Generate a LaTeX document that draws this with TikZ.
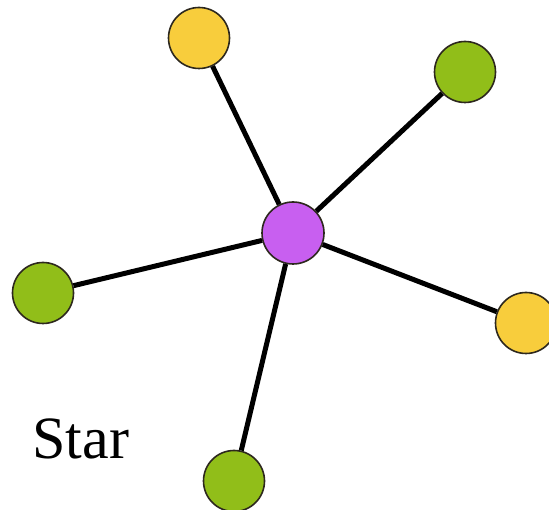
\documentclass[tikz,border=0pt]{standalone}
\usepackage{fontspec}
\setmainfont{Liberation Serif}
\usepackage{tikz}
\definecolor{hubpurple}{RGB}{200,95,240}
\definecolor{leafgreen}{RGB}{145,190,25}
\definecolor{leafyellow}{RGB}{248,205,60}
\definecolor{rimdark}{RGB}{45,40,30}
\tikzset{
  hub/.style={circle, draw=rimdark, fill=hubpurple, minimum size=62pt,
    inner sep=0pt, line width=1.6pt},
  greenleaf/.style={circle, draw=rimdark, fill=leafgreen, minimum size=61pt,
    inner sep=0pt, line width=1.6pt},
  yellowleaf/.style={circle, draw=rimdark, fill=leafyellow, minimum size=61pt,
    inner sep=0pt, line width=1.6pt},
  spoke/.style={line width=5pt, color=black}
}
\begin{document}
\begin{tikzpicture}[x=1pt, y=-1pt]
  \useasboundingbox (0,0) rectangle (549,510);
  % hub and leaves
  \node[hub] (hub) at (293,233) {};
  \node[yellowleaf] (top) at (199,38) {};
  \node[greenleaf] (topright) at (465,72) {};
  \node[greenleaf] (left) at (43,293) {};
  \node[yellowleaf] (right) at (526,323) {};
  \node[greenleaf] (bottom) at (234,481) {};

  % spokes
  \foreach \leaf in {top, topright, left, right, bottom}
    \draw[spoke] (hub) -- (\leaf);

  % label
  \node[font=\fontsize{60}{60}\selectfont, anchor=base west] (label) at (29,459) {Star};
\end{tikzpicture}
\end{document}
